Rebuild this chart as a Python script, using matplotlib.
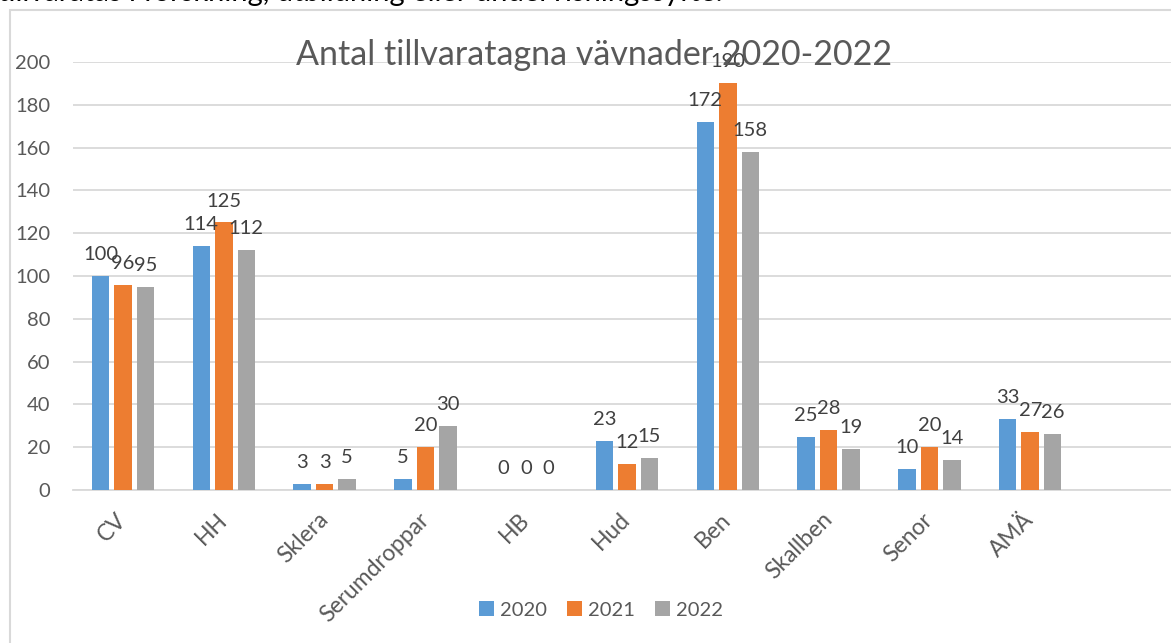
import numpy as np
import matplotlib

matplotlib.use("Agg")
import matplotlib.pyplot as plt
from matplotlib.patches import Rectangle

plt.rcParams["font.family"] = ["Lato", "DejaVu Sans"]

categories = ["CV", "HH", "Sklera", "Serumdroppar", "HB", "Hud", "Ben",
              "Skallben", "Senor", "AMÄ"]
years = ["2020", "2021", "2022"]
v2020 = [100, 114, 3, 5, 0, 23, 172, 25, 10, 33]
v2021 = [96, 125, 3, 20, 0, 12, 190, 28, 20, 27]
v2022 = [95, 112, 5, 30, 0, 15, 158, 19, 14, 26]
colors = ["#5B9BD5", "#ED7D31", "#A5A5A5"]

W, H = 1171, 643
fig = plt.figure(figsize=(W / 100, H / 100), dpi=100)
ax = fig.add_axes([72.6 / W, 1 - 490 / H, 11 * 100.8 / W, 428 / H])

x = np.arange(len(categories))
step, width = 0.223, 0.174
for i, (vals, yr, c) in enumerate(zip([v2020, v2021, v2022], years, colors)):
    pos = x + (i - 1) * step
    ax.bar(pos, vals, width, color=c, label=yr, zorder=3)
    for p, v in zip(pos, vals):
        ax.annotate(str(v), (p, v), xytext=(0, 11.5), textcoords="offset points",
                    ha="center", va="baseline", fontsize=14.5, color="#404040",
                    zorder=4)

ax.set_xlim(-0.5, 10.5)
ax.set_ylim(0, 200)
ax.set_yticks(range(0, 201, 20))
ax.yaxis.grid(True, color="#D9D9D9", lw=1.3, zorder=0)
ax.set_axisbelow(True)
for s in ["top", "right", "left"]:
    ax.spines[s].set_visible(False)
ax.spines["bottom"].set_color("#D9D9D9")
ax.spines["bottom"].set_linewidth(1.3)
ax.tick_params(axis="y", length=0, pad=16, labelsize=14.5, labelcolor="#595959")
ax.tick_params(axis="x", length=0, pad=19, labelsize=16.5, labelcolor="#595959")
ax.set_xticks(x)
ax.set_xticklabels(categories, rotation=45, ha="right", va="center",
                   rotation_mode="anchor")

fig.text(594 / W, 1 - 65 / H, "Antal tillvaratagna vävnader 2020-2022",
         ha="center", va="baseline", fontsize=24.5, color="#595959")

fig.legend(loc="center", bbox_to_anchor=(601 / W, 1 - 610 / H), ncol=3,
           frameon=False, fontsize=14.5, labelcolor="#595959",
           handlelength=0.75, handleheight=0.75, handletextpad=0.3,
           columnspacing=1.0)

# chart frame and the clipped line of document text above it
fig.add_artist(Rectangle((10 / W, -0.1), 1.2, 1.1 - 10 / H, fill=False,
                         edgecolor="#D9D9D9", lw=1.5, transform=fig.transFigure))
fig.text(-2 / W, 1 - 1 / H,
         "tillvaratas i forskning, utbildning eller undervisningssyfte.",
         ha="left", va="baseline", fontsize=21, color="black")

fig.savefig("out.png", dpi=100)
